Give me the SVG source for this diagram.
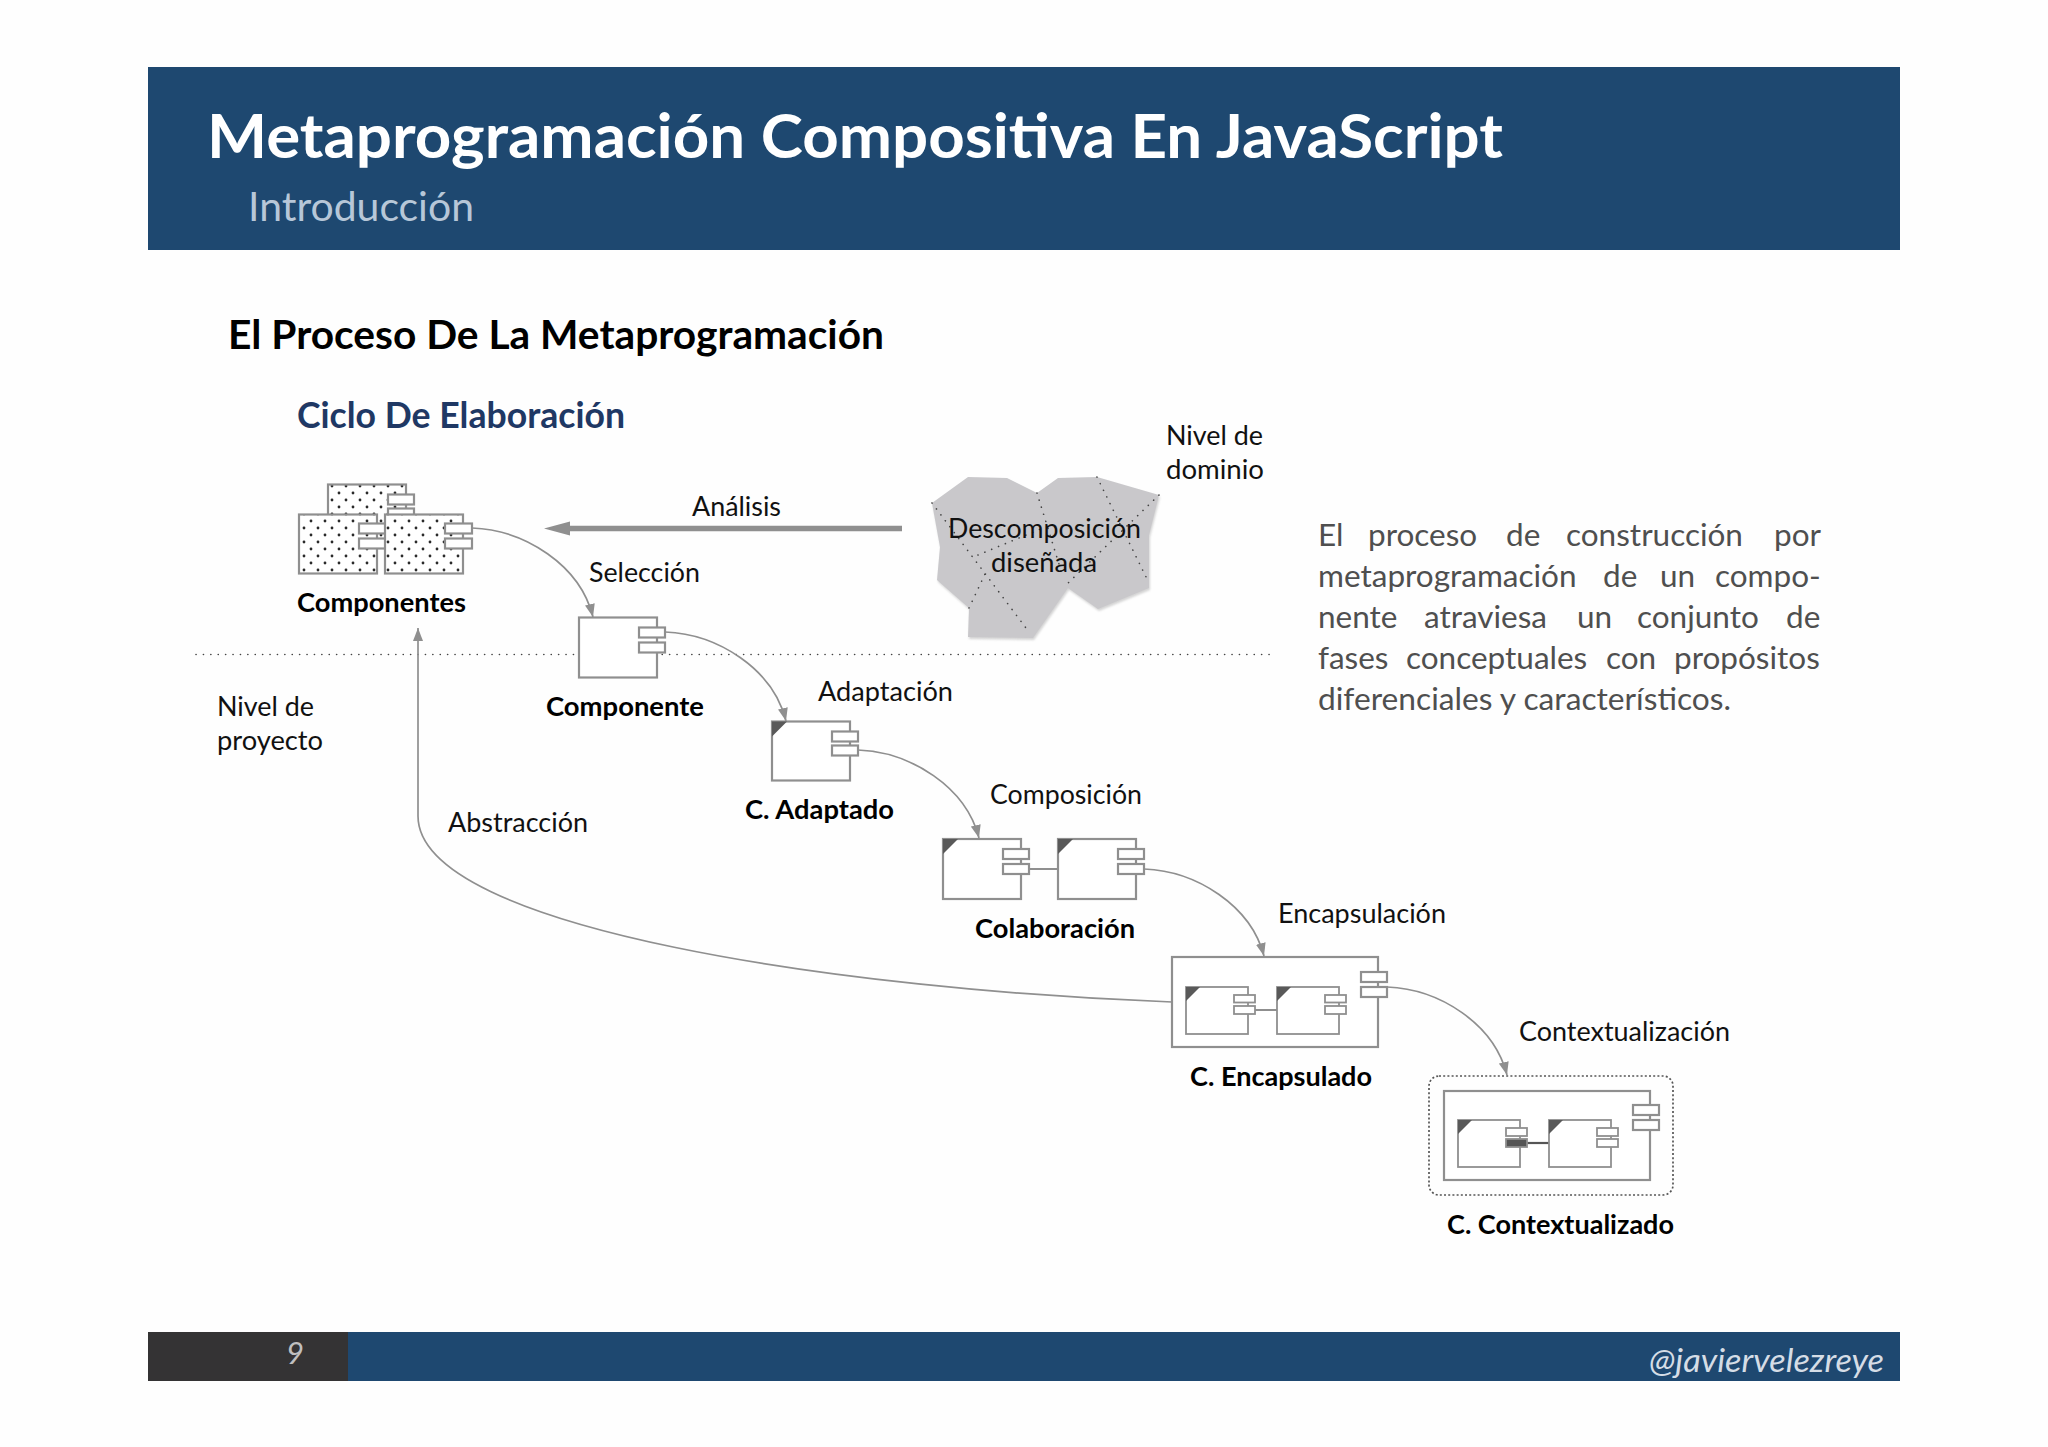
<svg xmlns="http://www.w3.org/2000/svg" width="2048" height="1447" viewBox="0 0 2048 1447">
<style>
text{font-family:Lato,"Open Sans","Liberation Sans",sans-serif;fill:#111;font-size:27px}
.b{font-weight:700;fill:#000}
.box{fill:#fff;stroke:#8f8f8f;stroke-width:2.2}
.dot{fill:url(#dots);stroke:#8f8f8f;stroke-width:2.2}
.in{fill:#fff;stroke:#8f8f8f;stroke-width:1.8}
.tri{fill:#595959}
.con{fill:none;stroke:#8f8f8f;stroke-width:1.7}
.cut{fill:none;stroke:#444;stroke-width:1.6;stroke-dasharray:0.1 7.3;stroke-linecap:round}
.p{font-size:31.5px;fill:#4f4f4f}
</style>
<defs>
<pattern id="dots" width="14" height="14" patternUnits="userSpaceOnUse">
<rect width="14" height="14" fill="#fff"/>
<circle cx="3" cy="3" r="1.4" fill="#2a2a2a"/><circle cx="10" cy="10" r="1.4" fill="#2a2a2a"/>
</pattern>
<marker id="ah" markerUnits="userSpaceOnUse" markerWidth="14" markerHeight="10" refX="13" refY="5" orient="auto"><path d="M0,0 L13,5 L0,10 Z" fill="#8f8f8f"/></marker>
<filter id="sh" x="-5%" y="-5%" width="110%" height="110%"><feGaussianBlur stdDeviation="1.2"/></filter>
</defs>
<rect width="2048" height="1447" fill="#fefefe"/>

<g id="header">
<rect x="148" y="67" width="1752" height="183" fill="#1e4870"/>
<text x="207" y="158" class="b" style="fill:#fff;font-size:62px" textLength="1296" lengthAdjust="spacingAndGlyphs">Metaprogramación Compositiva En JavaScript</text>
<text x="248" y="221" style="fill:#b7c7d8;font-size:40px" textLength="226" lengthAdjust="spacingAndGlyphs">Introducción</text>
</g>
<g id="headings">
<text x="228" y="349" class="b" style="font-size:41px" textLength="656" lengthAdjust="spacingAndGlyphs">El Proceso De La Metaprogramación</text>
<text x="297" y="428" class="b" style="fill:#1f3864;font-size:36px" textLength="328" lengthAdjust="spacingAndGlyphs">Ciclo De Elaboración</text>
</g>
<g id="levels">
<path class="cut" d="M196,654.5 H1272"/>
<text x="1166" y="445" textLength="97" lengthAdjust="spacingAndGlyphs">Nivel de</text>
<text x="1166" y="479" textLength="98" lengthAdjust="spacingAndGlyphs">dominio</text>
<text x="217" y="716" textLength="97" lengthAdjust="spacingAndGlyphs">Nivel de</text>
<text x="217" y="750" textLength="106" lengthAdjust="spacingAndGlyphs">proyecto</text>
</g>

<g id="dominio">
<path d="M932,503 L968,477 L1007,478 L1037,493 L1058,478 L1097,477 L1159,495 L1149,535 L1149,588 L1098,609 L1068,588 L1033,638 L968,637 L969,608 L937,580 L940,547 Z" fill="#aaa" opacity=".5" filter="url(#sh)" transform="translate(1,2)"/>
<path d="M932,503 L968,477 L1007,478 L1037,493 L1058,478 L1097,477 L1159,495 L1149,535 L1149,588 L1098,609 L1068,588 L1033,638 L968,637 L969,608 L937,580 L940,547 Z" fill="#c9c8cb"/>
<path class="cut" d="M932,503 L1029,632 M969,608 L985,574 M978,555 L1043,528 M1037,493 L1063,577 M1097,477 L1149,583 M1159,495 L1066,585"/>
<text x="948" y="538" textLength="193" lengthAdjust="spacingAndGlyphs">Descomposición</text>
<text x="991" y="572" textLength="106" lengthAdjust="spacingAndGlyphs">diseñada</text>
</g>

<g id="componentes">
<rect class="dot" x="328" y="484.500" width="78" height="59"/>
<rect class="box" x="388" y="494.500" width="26" height="10"/><rect class="box" x="388" y="508.500" width="26" height="10"/>
<rect class="dot" x="299" y="514.500" width="78" height="59"/>
<rect class="box" x="359" y="523.500" width="27" height="10"/><rect class="box" x="359" y="538.500" width="27" height="10"/>
<rect class="dot" x="385" y="514.500" width="78" height="59"/>
<rect class="box" x="445" y="523.500" width="27" height="10"/><rect class="box" x="445" y="538.500" width="27" height="10"/>
<text x="297" y="612" class="b" textLength="169" lengthAdjust="spacingAndGlyphs">Componentes</text>
</g>

<g id="componente">
<rect class="box" x="579" y="617.500" width="78" height="60"/>
<rect class="box" x="639" y="627.500" width="26" height="10"/><rect class="box" x="639" y="642.500" width="26" height="10"/>
<text x="546" y="716" class="b" textLength="158" lengthAdjust="spacingAndGlyphs">Componente</text>
</g>

<g id="adaptado">
<rect class="box" x="772" y="721.500" width="78" height="59"/>
<path class="tri" d="M772,721.500 H787 L772,736.500 Z"/>
<rect class="box" x="832" y="731.500" width="26" height="10"/><rect class="box" x="832" y="745.500" width="26" height="10"/>
<text x="745" y="819" class="b" textLength="149" lengthAdjust="spacingAndGlyphs">C. Adaptado</text>
</g>

<g id="colaboracion">
<path class="con" d="M1029,869 H1057" style="stroke-width:2"/>
<rect class="box" x="943" y="839" width="78" height="60"/>
<path class="tri" d="M943,839 H958 L943,854 Z"/>
<rect class="box" x="1003" y="849" width="26" height="10"/><rect class="box" x="1003" y="864" width="26" height="10"/>
<rect class="box" x="1058" y="839" width="78" height="60"/>
<path class="tri" d="M1058,839 H1073 L1058,854 Z"/>
<rect class="box" x="1118" y="849" width="26" height="10"/><rect class="box" x="1118" y="864" width="26" height="10"/>
<text x="975" y="938" class="b" textLength="160" lengthAdjust="spacingAndGlyphs">Colaboración</text>
</g>

<g id="encapsulado">
<rect class="box" x="1172" y="957" width="206" height="90"/>
<rect class="box" x="1361" y="972" width="26" height="10"/><rect class="box" x="1361" y="987" width="26" height="10"/>
<path class="con" d="M1255,1010 H1277" style="stroke-width:2"/>
<rect class="in" x="1186" y="987" width="62" height="47"/>
<path class="tri" d="M1186,987 H1200 L1186,1001 Z"/>
<rect class="in" x="1234" y="995" width="21" height="7.500"/><rect class="in" x="1234" y="1006" width="21" height="8"/>
<rect class="in" x="1277" y="987" width="62" height="47"/>
<path class="tri" d="M1277,987 H1291 L1277,1001 Z"/>
<rect class="in" x="1325" y="995" width="21" height="7.500"/><rect class="in" x="1325" y="1006" width="21" height="8"/>
<text x="1190" y="1086" class="b" textLength="182" lengthAdjust="spacingAndGlyphs">C. Encapsulado</text>
</g>

<g id="contextualizado">
<rect x="1429" y="1076" width="244" height="119" rx="10" fill="none" stroke="#555" stroke-width="1.7" stroke-dasharray="2 2.2"/>
<rect class="box" x="1444" y="1091" width="206" height="89"/>
<rect class="box" x="1633" y="1105" width="26" height="10"/><rect class="box" x="1633" y="1120" width="26" height="10"/>
<path class="con" d="M1527,1143 H1549" style="stroke:#555;stroke-width:2.2"/>
<rect class="in" x="1458" y="1120" width="62" height="47"/>
<path class="tri" d="M1458,1120 H1472 L1458,1134 Z"/>
<rect class="in" x="1506" y="1128" width="21" height="8"/><rect class="in" x="1506" y="1139" width="21" height="8" style="fill:#555"/>
<rect class="in" x="1549" y="1120" width="62" height="47"/>
<path class="tri" d="M1549,1120 H1563 L1549,1134 Z"/>
<rect class="in" x="1597" y="1128" width="21" height="8"/><rect class="in" x="1597" y="1139" width="21" height="8"/>
<text x="1447" y="1234" class="b" textLength="227" lengthAdjust="spacingAndGlyphs">C. Contextualizado</text>
</g>

<g id="connectors">
<path d="M902,528.500 H560" fill="none" stroke="#8f8f8f" stroke-width="5.500"/>
<path d="M570,521.500 L544,528.500 L570,535.500 Z" fill="#8f8f8f"/>
<path class="con" marker-end="url(#ah)" d="M472,528 C525,530 580,565 593,617"/>
<path class="con" marker-end="url(#ah)" d="M665,632 C718,634 773,669 786,721"/>
<path class="con" marker-end="url(#ah)" d="M858,750 C911,752 966,787 979,838"/>
<path class="con" marker-end="url(#ah)" d="M1144,869 C1197,871 1251,906 1264,956"/>
<path class="con" marker-end="url(#ah)" d="M1387,987 C1440,989 1494,1024 1507,1075"/>
<path class="con" marker-end="url(#ah)" d="M1172,1002 C850,990 418,930 418,816 L418,628"/>
</g>
<g id="connector-labels">
<text x="692" y="516" textLength="89" lengthAdjust="spacingAndGlyphs">Análisis</text>
<text x="589" y="582" textLength="111" lengthAdjust="spacingAndGlyphs">Selección</text>
<text x="818" y="701" textLength="135" lengthAdjust="spacingAndGlyphs">Adaptación</text>
<text x="990" y="804" textLength="152" lengthAdjust="spacingAndGlyphs">Composición</text>
<text x="448" y="832" textLength="140" lengthAdjust="spacingAndGlyphs">Abstracción</text>
<text x="1278" y="923" textLength="168" lengthAdjust="spacingAndGlyphs">Encapsulación</text>
<text x="1519" y="1041" textLength="211" lengthAdjust="spacingAndGlyphs">Contextualización</text>
</g>

<g id="paragraph">
<text class="p" y="546"><tspan x="1318">El</tspan><tspan x="1368">proceso</tspan><tspan x="1506">de</tspan><tspan x="1566">construcción</tspan><tspan x="1774">por</tspan></text>
<text class="p" y="587"><tspan x="1318">metaprogramación</tspan><tspan x="1603">de</tspan><tspan x="1660">un</tspan><tspan x="1715">compo-</tspan></text>
<text class="p" y="628"><tspan x="1318">nente</tspan><tspan x="1424">atraviesa</tspan><tspan x="1577">un</tspan><tspan x="1637">conjunto</tspan><tspan x="1786">de</tspan></text>
<text class="p" y="669"><tspan x="1318">fases</tspan><tspan x="1406">conceptuales</tspan><tspan x="1606">con</tspan><tspan x="1674">propósitos</tspan></text>
<text class="p" y="710" x="1318" textLength="413" lengthAdjust="spacingAndGlyphs">diferenciales y característicos.</text>
</g>

<g id="footer">
<rect x="148" y="1332" width="1752" height="49" fill="#1e4870"/>
<rect x="148" y="1332" width="200" height="49" fill="#343334"/>
<text x="286" y="1364" style="fill:#bfbfbf;font-size:31px;font-style:italic">9</text>
<text x="1649" y="1372" style="fill:#d5dde6;font-size:32px;font-style:italic" textLength="235" lengthAdjust="spacingAndGlyphs">@javiervelezreye</text>
</g>
</svg>
